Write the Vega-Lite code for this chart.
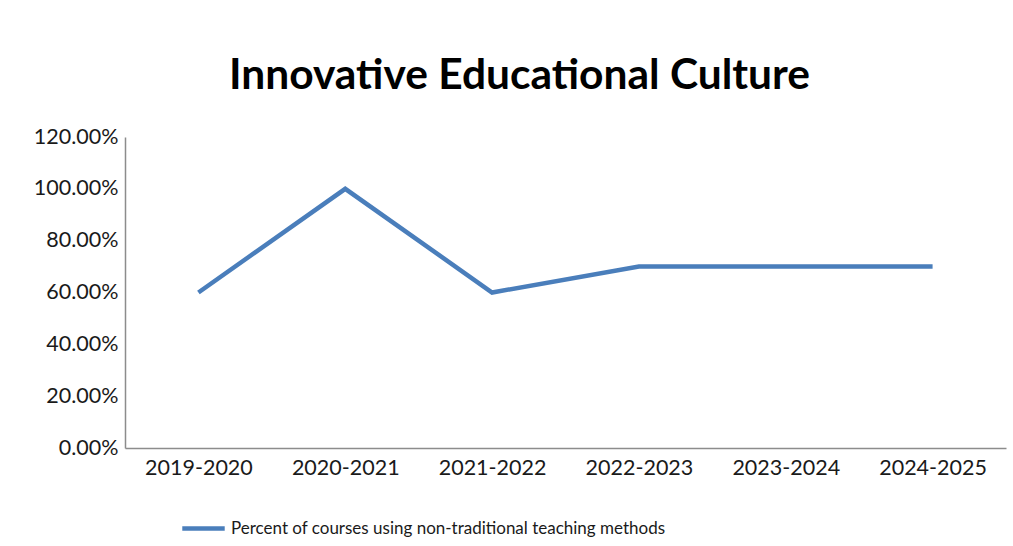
{
  "$schema": "https://vega.github.io/schema/vega-lite/v6.json",
  "autosize": "none",
  "width": 881,
  "height": 311,
  "padding": {"left": 125, "top": 137, "right": 7, "bottom": 98},
  "background": "white",
  "title": {
    "text": "Innovative Educational Culture",
    "font": "Lato",
    "fontSize": 42.5,
    "fontWeight": "bold",
    "color": "#000000",
    "anchor": "middle",
    "dx": -46,
    "offset": 29
  },
  "data": {
    "values": [
      {"year": "2019-2020", "value": 0.60, "series": "Percent of courses using non-traditional teaching methods"},
      {"year": "2020-2021", "value": 1.00, "series": "Percent of courses using non-traditional teaching methods"},
      {"year": "2021-2022", "value": 0.60, "series": "Percent of courses using non-traditional teaching methods"},
      {"year": "2022-2023", "value": 0.70, "series": "Percent of courses using non-traditional teaching methods"},
      {"year": "2023-2024", "value": 0.70, "series": "Percent of courses using non-traditional teaching methods"},
      {"year": "2024-2025", "value": 0.70, "series": "Percent of courses using non-traditional teaching methods"}
    ]
  },
  "mark": {"type": "line", "strokeWidth": 4.5, "strokeCap": "butt", "strokeJoin": "miter"},
  "encoding": {
    "x": {
      "field": "year",
      "type": "ordinal",
      "sort": null,
      "scale": {"type": "point", "padding": 0.5},
      "axis": {
        "title": null,
        "labelAngle": 0,
        "labelFont": "Lato",
        "labelFontSize": 21.5,
        "labelColor": "#1a1a1a",
        "labelPadding": 9,
        "ticks": false,
        "domainColor": "#8c8c8c",
        "domainWidth": 1.5,
        "grid": false
      }
    },
    "y": {
      "field": "value",
      "type": "quantitative",
      "scale": {"domain": [0, 1.2], "nice": false},
      "axis": {
        "title": null,
        "values": [0, 0.2, 0.4, 0.6, 0.8, 1.0, 1.2],
        "format": ".2%",
        "labelFont": "Lato",
        "labelFontSize": 21.5,
        "labelColor": "#1a1a1a",
        "labelPadding": 7,
        "ticks": false,
        "domainColor": "#8c8c8c",
        "domainWidth": 1.5,
        "grid": false
      }
    },
    "color": {
      "field": "series",
      "type": "nominal",
      "scale": {"range": ["#4a7ebb"]},
      "legend": {
        "title": null,
        "orient": "none",
        "legendX": 55,
        "legendY": 368,
        "symbolType": "stroke",
        "symbolSize": 1800,
        "symbolStrokeWidth": 4.5,
        "labelFont": "Lato",
        "labelFontSize": 17,
        "labelColor": "#1a1a1a",
        "labelLimit": 0,
        "padding": 0
      }
    }
  },
  "config": {"view": {"stroke": null}}
}
